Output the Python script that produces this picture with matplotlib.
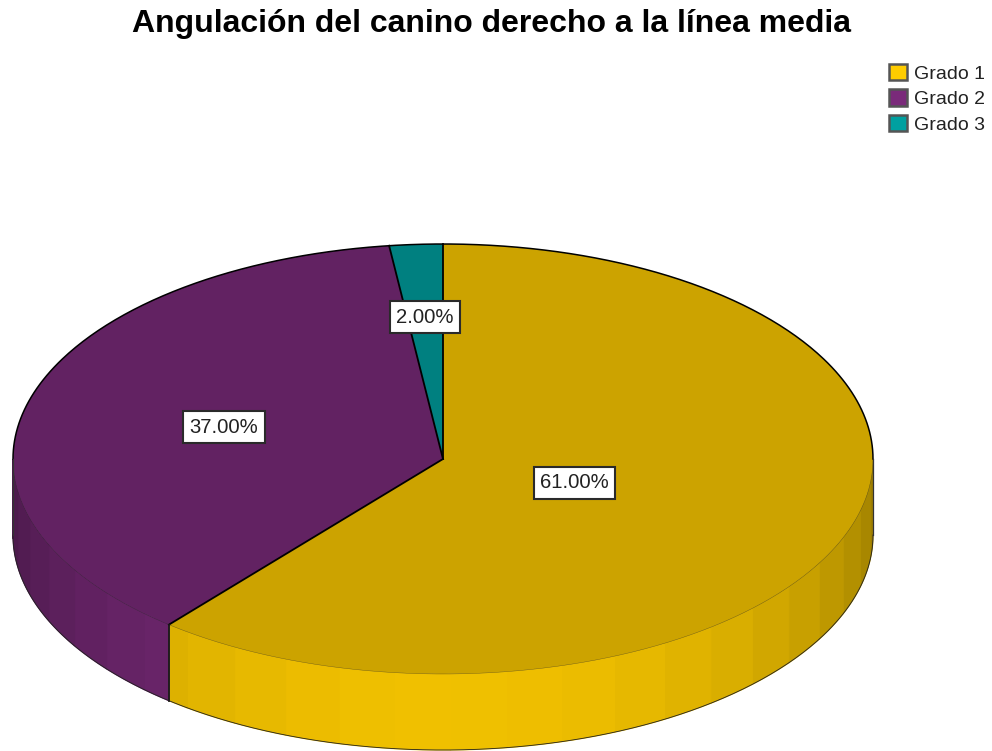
import matplotlib
matplotlib.use('Agg')
import matplotlib.pyplot as plt
from matplotlib.patches import Patch
import numpy as np

plt.rcParams['font.family'] = ['Liberation Sans', 'DejaVu Sans']

categories = ['Grado 1', 'Grado 2', 'Grado 3']
values = [61.0, 37.0, 2.0]
value_labels = ['61.00%', '37.00%', '2.00%']

# base colours (legend); the pie top is a darker shade of them
base_colors = ['#FFCC00', '#7A2A7A', '#00A0A0']
top_shade = 0.8

W, H = 992, 751
CX, CY = 443, 459      # pie centre in pixels
RX, RY = 430, 215      # ellipse radii in pixels
DEPTH = 76 / RY        # wall height in axis units
FACET = 7.5            # wall band width, degrees
label_radius = [0.325, 0.53, 0.66]


def shade(color, k):
    return tuple(c * k for c in matplotlib.colors.to_rgb(color))


def rim(theta):
    # theta in degrees, clockwise from 12 o'clock
    t = np.radians(theta)
    return np.sin(t), np.cos(t)


fig = plt.figure(figsize=(W / 100, H / 100), dpi=100)
ax = fig.add_axes([0, 0, 1, 1])

top_colors = [shade(c, top_shade) for c in base_colors]
ax.pie(values, colors=top_colors, startangle=90, counterclock=False, radius=1,
       wedgeprops={'linewidth': 0, 'zorder': 3})
ax.set_aspect('auto')
ax.set_xlim((0 - CX) / RX, (W - CX) / RX)
ax.set_ylim((CY - H) / RY, CY / RY)

bounds = np.concatenate([[0], np.cumsum(values)]) * 360 / sum(values)

# side wall: flat-shaded bands along the front half of the rim
for i, color in enumerate(base_colors):
    start, end = max(bounds[i], 90), min(bounds[i + 1], 270)
    if start >= end:
        continue
    edges = np.arange(89, 270 + FACET, FACET)
    edges = np.unique(np.clip(edges, start, end))
    for a, b in zip(edges[:-1], edges[1:]):
        mid = np.radians((a + b) / 2 - 180)
        k = 0.6 + 0.34 * np.cos(mid)
        ts = np.linspace(a, b, 12)
        xs, ys = rim(ts)
        ax.fill(np.r_[xs, xs[::-1]], np.r_[ys, ys[::-1] - DEPTH],
                facecolor=shade(color, k), edgecolor=shade(color, k), lw=0.9, zorder=2)

# outlines
ts = np.linspace(-90, 90, 300)
xs, ys = rim(ts)
ax.plot(xs, ys, color='black', lw=1.1, zorder=4)
ts = np.linspace(90, 270, 300)
xs, ys = rim(ts)
ax.plot(xs, ys - DEPTH, color='#222222', lw=0.6, zorder=4)
ax.plot(xs, ys, color='#222222', lw=0.3, alpha=0.6, zorder=4)
for side in (-1, 1):
    ax.plot([side, side], [0, -DEPTH], color='#333333', lw=0.9, zorder=4)

for b in bounds[:-1]:
    x, y = rim(b)
    ax.plot([0, x], [0, y], color='black', lw=1.3, zorder=4)
    if 90 < b < 270:
        ax.plot([x, x], [y, y - DEPTH], color='#1a1a1a', lw=1.3, zorder=4)

# percentage boxes
for i, text in enumerate(value_labels):
    x, y = rim((bounds[i] + bounds[i + 1]) / 2)
    ax.text(x * label_radius[i], y * label_radius[i], text, fontsize=14.6,
            color='#222222', ha='center', va='center', zorder=5,
            bbox={'boxstyle': 'square,pad=0.32', 'facecolor': 'white',
                  'edgecolor': '#2a2a2a', 'linewidth': 1.5})

handles = [Patch(facecolor=c, edgecolor='#555555', linewidth=1.8) for c in base_colors]
fig.legend(handles, categories, loc='upper left', frameon=False,
           bbox_to_anchor=(889 / W, 1 - 64 / H), borderpad=0, borderaxespad=0,
           fontsize=14, handlelength=0.9, handleheight=0.9,
           handletextpad=0.36, labelspacing=0.34, labelcolor='#222222')

fig.text(492 / W, 1 - 24 / H, 'Angulación del canino derecho a la línea media',
         fontsize=23, fontweight='bold', ha='center', va='center', color='black')

fig.savefig('out.png', dpi=100)
